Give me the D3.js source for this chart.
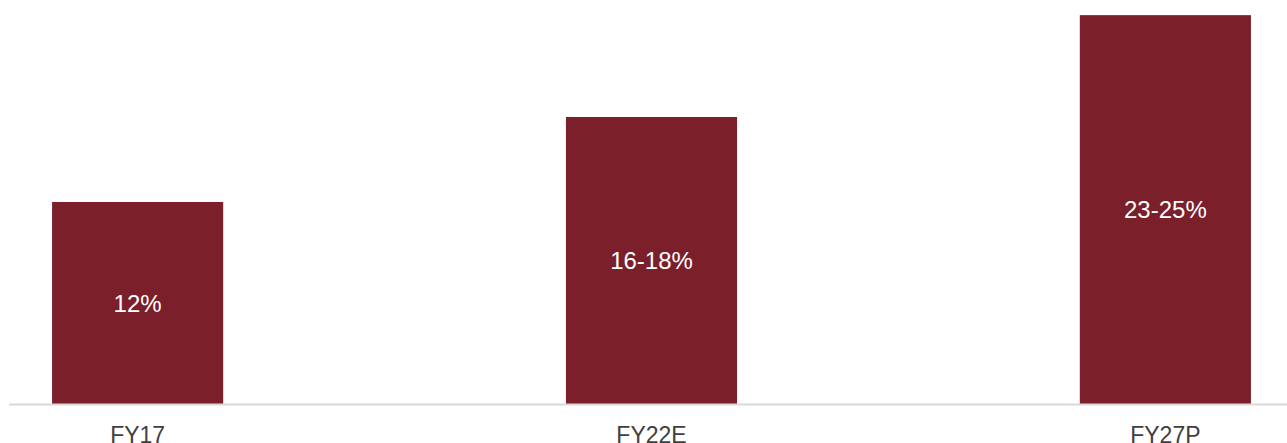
<!DOCTYPE html>
<html><head><meta charset="utf-8">
<script src="https://cdn.jsdelivr.net/npm/d3@7"></script>
<style>html,body{margin:0;padding:0;background:#fff;}svg{display:block;}</style>
</head><body><svg id="c" width="1287" height="443"></svg>
<script>
const categories = ["FY17", "FY22E", "FY27P"];
const values = [12, 17.05, 23.1];
const valueLabels = ["12%", "16-18%", "23-25%"];

const W = 1287, H = 443;
const svg = d3.select("#c");
const x = d3.scaleBand().domain(categories).range([12.5, 1290.5]).paddingInner(0.667).paddingOuter(0.077);
const y = d3.scaleLinear().domain([0, 24]).range([404, 0]);

svg.selectAll("rect.bar").data(categories).join("rect")
  .attr("class","bar")
  .attr("x", d => x(d)).attr("width", x.bandwidth())
  .attr("y", (d,i) => y(values[i])).attr("height", (d,i) => y(0) - y(values[i]))
  .attr("fill", "#7B1F2A");

svg.append("line").attr("x1", 9).attr("x2", W).attr("y1", y(0)+0.5).attr("y2", y(0)+0.5)
  .attr("stroke", "#d9d9d9").attr("stroke-width", 2);

const fs = 24;
svg.selectAll("text.val").data(categories).join("text")
  .attr("class","val")
  .attr("x", d => x(d) + x.bandwidth()/2)
  .attr("y", (d,i) => (y(values[i]) + y(0))/2 + fs*0.358)
  .attr("text-anchor","middle")
  .attr("font-family","Liberation Sans, Arial, sans-serif")
  .attr("font-size", fs).attr("fill","#ffffff")
  .text((d,i) => valueLabels[i]);

svg.selectAll("text.cat").data(categories).join("text")
  .attr("class","cat")
  .attr("x", d => x(d) + x.bandwidth()/2)
  .attr("y", 442.5)
  .attr("text-anchor","middle")
  .attr("font-family","Liberation Sans, Arial, sans-serif")
  .attr("font-size", 23).attr("fill","#404040")
  .text(d => d);
</script></body></html>
